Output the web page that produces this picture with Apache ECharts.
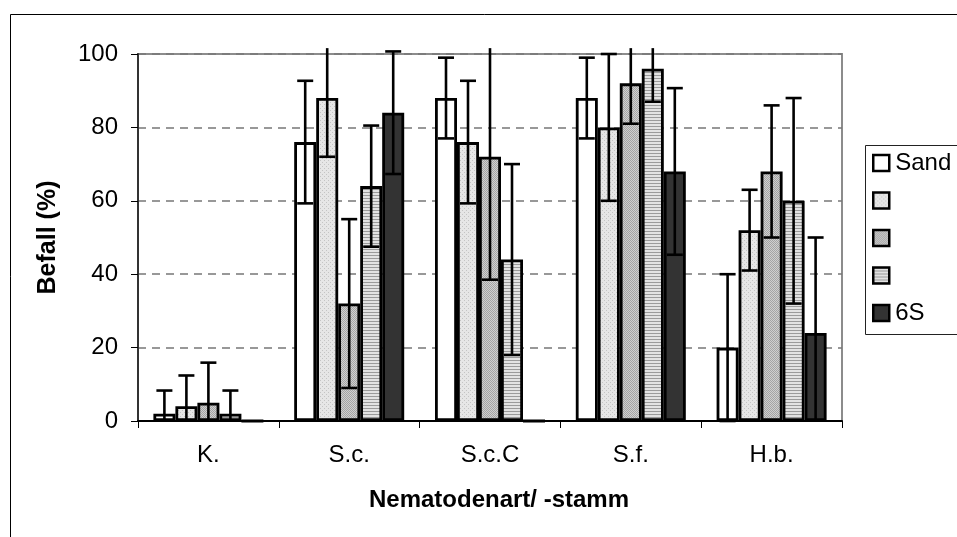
<!DOCTYPE html>
<html>
<head>
<meta charset="utf-8">
<script src="https://cdn.jsdelivr.net/npm/echarts@6/dist/echarts.min.js"></script>
<style>html,body{margin:0;padding:0;background:#fff}#c{width:957px;height:537px}</style>
</head>
<body>
<div id="c"></div>
<script>
// ---- data ----
const categories = ['K.', 'S.c.', 'S.c.C', 'S.f.', 'H.b.'];
const seriesNames = ['Sand', ' ', '  ', '   ', '6S'];
const sandVals = [2, 76, 88, 88, 20];
const sandErr  = [6.3, 16.7, 11, 11, 20];
const s2Vals = [4, 88, 76, 80, 52];
const s2Err  = [8.4, 16, 16.7, 20, 11];
const s3Vals = [5, 32, 72, 92, 68];
const s3Err  = [10.9, 23, 33.5, 11, 18];
const s4Vals = [2, 64, 44, 96, 60];
const s4Err  = [6.3, 16.5, 26, 9, 28];
const s6Vals = [0, 84, 0, 68, 24];
const s6Err  = [null, 16.7, null, 22.7, 26];
const yTicks = [0, 20, 40, 60, 80, 100];

// ---- patterns ----
function pattern(w, h, draw) {
  const c = document.createElement('canvas');
  c.width = w; c.height = h;
  const g = c.getContext('2d');
  draw(g);
  return { image: c, repeat: 'repeat' };
}
const pat2 = pattern(4, 4, g => {
  g.fillStyle = '#e6e6e6'; g.fillRect(0, 0, 4, 4);
  g.fillStyle = '#c4c4c4'; g.fillRect(0, 0, 1, 1); g.fillRect(2, 2, 1, 1);
});
const pat3 = pattern(2, 2, g => {
  g.fillStyle = '#cfcfcf'; g.fillRect(0, 0, 2, 2);
  g.fillStyle = '#a4a4a4'; g.fillRect(0, 0, 1, 1); g.fillRect(1, 1, 1, 1);
});
const pat4 = pattern(3, 3, g => {
  g.fillStyle = '#e2e2e2'; g.fillRect(0, 0, 3, 3);
  g.fillStyle = '#9a9a9a'; g.fillRect(0, 0, 3, 1);
});
const fills = ['#ffffff', pat2, pat3, pat4, '#333333'];
const valsAll = [sandVals, s2Vals, s3Vals, s4Vals, s6Vals];
const errsAll = [sandErr, s2Err, s3Err, s4Err, s6Err];

const BW = 22;
const FONT = 'Liberation Sans, Arial, sans-serif';
const CLIP = 101.6;

const series = [];
valsAll.forEach((vals, k) => {
  series.push({
    name: seriesNames[k], type: 'bar', data: vals,
    barWidth: BW, barGap: '0%',
    itemStyle: { color: fills[k], borderColor: '#000', borderWidth: 2.8 },
    emphasis: { disabled: true }, z: 2
  });
});
errsAll.forEach((errs, k) => {
  const data = [];
  errs.forEach((e, i) => { if (e != null) data.push([i, valsAll[k][i], e]); });
  series.push({
    type: 'custom', z: 5, silent: true,
    data: data,
    encode: { x: 0, y: 1 },
    renderItem: function (params, api) {
      const ci = api.value(0), v = api.value(1), e = api.value(2);
      const hi = v + e, lo = v - e;
      const pT = api.coord([ci, Math.min(hi, CLIP)]);
      const pB = api.coord([ci, Math.max(lo, 0)]);
      const x = pT[0] + (k - 2) * BW;
      const st = { stroke: '#000', lineWidth: 2.6 };
      const ch = [{ type: 'line', shape: { x1: x, y1: pT[1], x2: x, y2: pB[1] }, style: st }];
      if (hi <= CLIP) ch.push({ type: 'line', shape: { x1: x - 8, y1: pT[1], x2: x + 8, y2: pT[1] }, style: st });
      if (lo >= 0) ch.push({ type: 'line', shape: { x1: x - 8, y1: pB[1], x2: x + 8, y2: pB[1] }, style: st });
      return { type: 'group', children: ch };
    }
  });
});

const chart = echarts.init(document.getElementById('c'), null, { renderer: 'canvas' });
chart.setOption({
  animation: false,
  backgroundColor: '#fff',
  textStyle: { fontFamily: FONT },
  grid: { left: 138, right: 115, top: 54, bottom: 116, show: true, borderColor: '#8c8c8c', borderWidth: 2, containLabel: false },
  legend: {
    data: seriesNames, orient: 'vertical', left: 872, top: 151, padding: 0,
    itemWidth: 16, itemHeight: 16, itemGap: 13.5,
    icon: 'rect', selectedMode: false,
    itemStyle: { borderColor: '#000', borderWidth: 2.5 },
    textStyle: { fontSize: 24, lineHeight: 24, color: '#000', fontFamily: FONT, padding: [0, 0, 0, 1] }
  },
  xAxis: {
    type: 'category', data: categories,
    axisLine: { lineStyle: { color: '#000', width: 2 } },
    axisTick: { show: true, length: 7, lineStyle: { color: '#000', width: 1 } },
    axisLabel: { fontSize: 24, color: '#000', margin: 22, fontFamily: FONT },
    name: 'Nematodenart/ -stamm', nameLocation: 'middle', nameGap: 67,
    nameTextStyle: { fontSize: 24, fontWeight: 'bold', color: '#000', fontFamily: FONT, padding: [0, 0, 0, 18] }
  },
  yAxis: {
    type: 'value', min: 0, max: 100, interval: 20,
    axisLine: { show: true, lineStyle: { color: '#333', width: 2 } },
    axisTick: { show: true, length: 7, lineStyle: { color: '#000', width: 1 } },
    axisLabel: { fontSize: 24, color: '#000', margin: 20, fontFamily: FONT,
      formatter: v => (yTicks.indexOf(v) >= 0 ? String(v) : '') },
    splitLine: { show: true, lineStyle: { color: '#777', width: 1.5, type: [8, 6] } },
    name: 'Befall (%)', nameLocation: 'middle', nameGap: 77,
    nameTextStyle: { fontSize: 25, fontWeight: 'bold', color: '#000', fontFamily: FONT }
  },
  graphic: [
    { type: 'rect', left: 8, top: 12, shape: { width: 1200, height: 900 }, style: { fill: null, stroke: '#000', lineWidth: 1 }, z: -10, silent: true },
    { type: 'rect', left: 863, top: 143, shape: { width: 300, height: 189 }, style: { fill: null, stroke: '#222', lineWidth: 1 }, z: 10, silent: true }
  ],
  series: series
});
</script>
</body>
</html>
